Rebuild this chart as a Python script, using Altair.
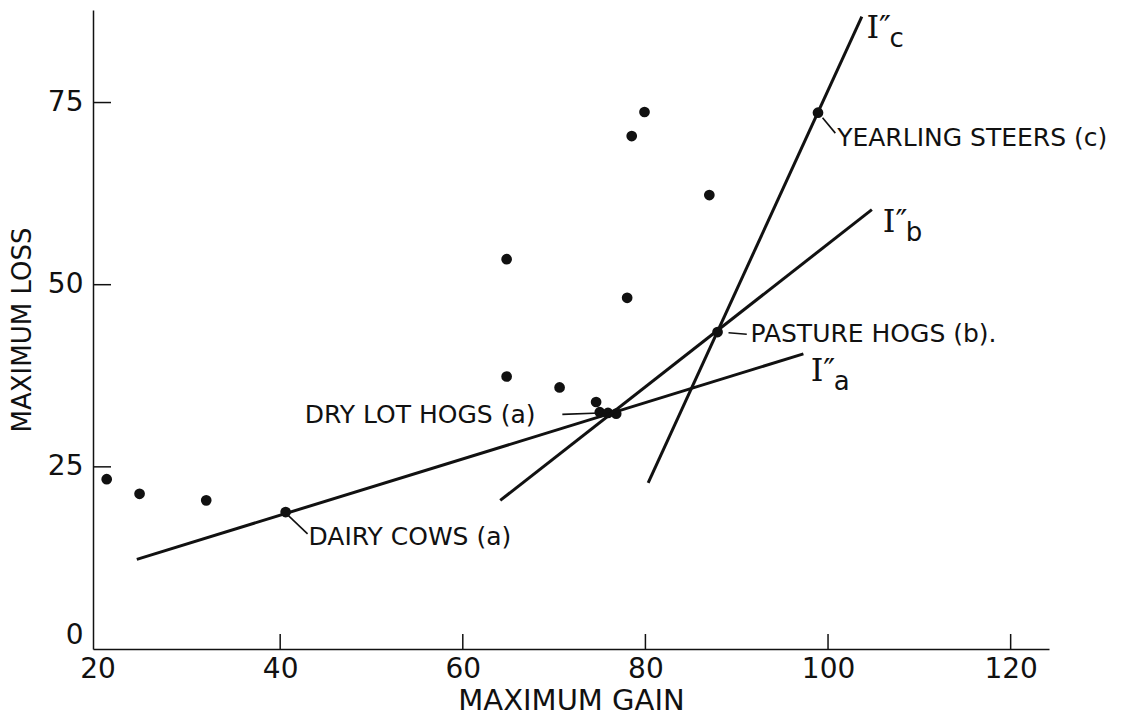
import altair as alt
import pandas as pd

# ---- data ----
# scatter points: maximum gain (x), maximum loss (y)
gain = [21.0, 24.6, 31.9, 40.6, 64.8, 64.8, 70.6, 74.6, 75.0, 75.9, 76.8,
        78.0, 78.5, 79.9, 87.0, 87.9, 98.9]
loss = [23.3, 21.3, 20.4, 18.8, 53.5, 37.4, 35.9, 33.9, 32.5, 32.4, 32.3,
        48.2, 70.4, 73.7, 62.3, 43.5, 73.6]

# straight indifference lines I''a, I''b, I''c (end points)
line_id = ["a", "a", "b", "b", "c", "c"]
line_gain = [24.3, 97.3, 64.1, 104.8, 80.3, 103.7]
line_loss = [12.3, 40.5, 20.4, 60.3, 22.8, 86.8]

# point labels
label_text = ["DAIRY COWS (a)", "DRY LOT HOGS (a)", "PASTURE HOGS (b).",
              "YEARLING STEERS (c)"]
label_gain = [43.1, 42.7, 91.5, 101.0]
label_loss = [15.4, 32.1, 43.3, 70.1]

# short pointers from labels to points
pointer_id = ["d", "d", "h", "h", "p", "p", "y", "y"]
pointer_gain = [43.0, 40.9, 70.9, 75.0, 91.1, 89.1, 100.8, 99.4]
pointer_loss = [15.8, 18.3, 32.2, 32.4, 43.2, 43.4, 70.8, 72.9]

# line names I''c, I''b, I''a
curve_sym = ["I\u2033", "I\u2033", "I\u2033"]
curve_sub = ["c", "b", "a"]
curve_gain = [104.2, 106.0, 98.1]
curve_loss = [85.2, 58.6, 38.1]

x_ticks = [20, 40, 60, 80, 100, 120]
y_ticks = [0, 25, 50, 75]

# ---- tables ----
pts = pd.DataFrame({"x": gain, "y": loss})
lines = pd.DataFrame({"id": line_id, "x": line_gain, "y": line_loss})
labels = pd.DataFrame({"t": label_text, "x": label_gain, "y": label_loss})
pointers = pd.DataFrame({"id": pointer_id, "x": pointer_gain, "y": pointer_loss})
curves = pd.DataFrame({"s": curve_sym, "sub": curve_sub, "x": curve_gain, "y": curve_loss})
xt = pd.DataFrame({"x": x_ticks[1:]})
yt = pd.DataFrame({"y": y_ticks[1:]})

W, H = 956, 639
xs = alt.Scale(domain=[19.5, 124.2], nice=False, zero=False)
ys = alt.Scale(domain=[0, 87.7], nice=False, zero=False)

xaxis = alt.Axis(values=x_ticks, title="MAXIMUM GAIN", ticks=False, tickSize=0,
                 labelPadding=6, titlePadding=3, grid=False,
                 labelFontSize=28, titleFontSize=29)
yaxis = alt.Axis(values=y_ticks, title="MAXIMUM LOSS", ticks=False, tickSize=0,
                 labelPadding=10, titlePadding=12, grid=False, labelFlush=True,
                 labelFontSize=28, titleFontSize=26)

X = alt.X("x:Q", scale=xs, axis=xaxis)
Y = alt.Y("y:Q", scale=ys, axis=yaxis)

points = alt.Chart(pts).mark_circle(size=115, color="#111", opacity=1).encode(x=X, y=Y)

ilines = alt.Chart(lines).mark_line(color="#111", strokeWidth=3).encode(
    x=X, y=Y, detail="id:N")

ptr = alt.Chart(pointers).mark_line(color="#111", strokeWidth=1.6).encode(
    x=X, y=Y, detail="id:N")

lbl = alt.Chart(labels).mark_text(align="left", baseline="middle", font="DejaVu Sans",
                                  fontSize=25, color="#111").encode(
    x=X, y=Y, text="t:N")

sym = alt.Chart(curves).mark_text(align="left", baseline="middle", font="DejaVu Serif",
                                  fontSize=32, color="#111").encode(
    x=X, y=Y, text="s:N")

sub = alt.Chart(curves).mark_text(align="left", baseline="alphabetic", font="DejaVu Sans",
                                  fontSize=26, dx=23, dy=19, color="#111").encode(
    x=X, y=Y, text="sub:N")

xtick = alt.Chart(xt).mark_rule(color="#111", strokeWidth=1.5).encode(
    x=X, y=alt.value(H), y2=alt.value(H - 15))

ytick = alt.Chart(yt).mark_rule(color="#111", strokeWidth=1.5).encode(
    y=Y, x=alt.value(0), x2=alt.value(18))

chart = alt.layer(points, ilines, ptr, lbl, sym, sub, xtick, ytick).properties(
    width=W, height=H,
    autosize=alt.AutoSizeParams(type="none"),
    padding={"left": 85, "top": 2, "right": 85, "bottom": 68},
    background="white",
).configure_view(stroke=None).configure_axis(
    labelFont="DejaVu Sans", titleFont="DejaVu Sans", labelColor="#111",
    titleColor="#111", titleFontWeight="normal", domainColor="#111",
    domainWidth=1.5,
)

chart.save("out.html", embed_options={"renderer": "svg", "actions": False})
